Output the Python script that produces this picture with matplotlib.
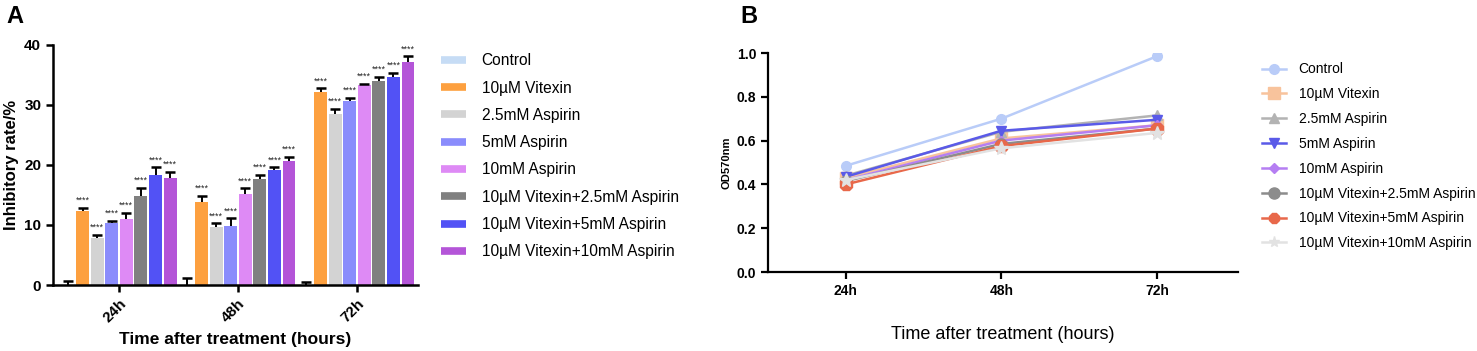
import matplotlib
matplotlib.use("Agg")
import matplotlib.pyplot as plt
from matplotlib.lines import Line2D
import numpy as np

plt.rcParams['font.family'] = ['Liberation Sans', 'DejaVu Sans']

# ---------------- data ----------------
timepoints = ["24h", "48h", "72h"]
groups = ["Control", "10\u00b5M Vitexin", "2.5mM Aspirin", "5mM Aspirin", "10mM Aspirin",
          "10\u00b5M Vitexin+2.5mM Aspirin", "10\u00b5M Vitexin+5mM Aspirin",
          "10\u00b5M Vitexin+10mM Aspirin"]

# Panel A: inhibitory rate (%) per group, per timepoint
inhib_control = [0.0, 0.0, 0.0]
inhib_vitexin = [12.4, 13.8, 32.2]
inhib_asp25 = [7.9, 9.7, 28.5]
inhib_asp5 = [10.3, 9.8, 30.7]
inhib_asp10 = [11.0, 15.2, 33.4]
inhib_v_asp25 = [14.9, 17.7, 34.0]
inhib_v_asp5 = [18.4, 19.1, 34.7]
inhib_v_asp10 = [17.9, 20.7, 37.2]

err_control = [0.7, 1.1, 0.45]
err_vitexin = [0.5, 1.1, 0.6]
err_asp25 = [0.5, 0.6, 0.9]
err_asp5 = [0.4, 1.3, 0.5]
err_asp10 = [1.05, 0.9, 0.15]
err_v_asp25 = [1.3, 0.7, 0.7]
err_v_asp5 = [1.2, 0.5, 0.7]
err_v_asp10 = [1.0, 0.7, 0.9]

# Panel B: OD570nm
od_control = [0.485, 0.70, 0.985]
od_vitexin = [0.43, 0.61, 0.67]
od_asp25 = [0.44, 0.64, 0.715]
od_asp5 = [0.435, 0.645, 0.695]
od_asp10 = [0.42, 0.60, 0.67]
od_v_asp25 = [0.415, 0.585, 0.655]
od_v_asp5 = [0.40, 0.575, 0.655]
od_v_asp10 = [0.42, 0.565, 0.635]

inhib = [inhib_control, inhib_vitexin, inhib_asp25, inhib_asp5, inhib_asp10,
         inhib_v_asp25, inhib_v_asp5, inhib_v_asp10]
errs = [err_control, err_vitexin, err_asp25, err_asp5, err_asp10,
        err_v_asp25, err_v_asp5, err_v_asp10]
ods = [od_control, od_vitexin, od_asp25, od_asp5, od_asp10,
       od_v_asp25, od_v_asp5, od_v_asp10]

bar_colors = ["#C6DCF5", "#FDA03F", "#D3D3D3", "#8A8CFC", "#DE8AF5",
              "#808080", "#5252F5", "#B455D8"]
line_colors = ["#B9CCF8", "#F8C39C", "#B3B3B3", "#5A5AE8", "#B57EF2",
               "#8C8C8C", "#E8684A", "#E2E2E2"]
markers = ["o", "s", "^", "v", "D", "o", "8", "*"]
msizes = [7, 8, 7, 7, 5, 8, 10, 10]

fig = plt.figure(figsize=(14.77, 3.51), dpi=100)

# ---------------- Panel A ----------------
axA = fig.add_axes([0.0359, 0.188, 0.2471, 0.684])
x = np.arange(len(timepoints))
step = 0.1226
width = 0.108
for i, (vals, er, c) in enumerate(zip(inhib, errs, bar_colors)):
    xs = x + (i - 3.5) * step
    vals = np.asarray(vals)
    er = np.asarray(er)
    axA.bar(xs, vals, width=width, color=c, edgecolor="none", zorder=2)
    axA.errorbar(xs, vals, yerr=[np.zeros(len(vals)), er], fmt="none",
                 ecolor="black", elinewidth=1.4, capsize=0, zorder=3)
    axA.plot(xs, vals + er, linestyle="none", marker="_", markersize=7,
             markeredgewidth=1.8, color="black", zorder=3)
    if i > 0:
        for xx, v, e in zip(xs, vals, er):
            axA.text(xx, v + e + 0.45, "****", ha="center", va="bottom",
                     fontsize=6.5, color="#222222")
axA.set_xlim(-0.555, 2.513)
axA.set_ylim(0, 40)
axA.set_yticks([0, 10, 20, 30, 40])
axA.set_xticks(x)
axA.set_xticklabels(timepoints, rotation=45, fontsize=11, fontweight="bold",
                    ha="right", rotation_mode="anchor")
for lab in axA.get_yticklabels():
    lab.set_fontweight("bold")
    lab.set_fontsize(11)
axA.spines["top"].set_visible(False)
axA.spines["right"].set_visible(False)
axA.spines["left"].set_linewidth(1.8)
axA.spines["bottom"].set_linewidth(1.8)
axA.tick_params(axis="both", width=1.8, length=5)
axA.set_ylabel("Inhibitory rate/%", fontsize=12, fontweight="bold")
axA.set_xlabel("Time after treatment (hours)", fontsize=12.5, fontweight="bold",
               labelpad=5)

handlesA = [Line2D([], [], color=c, lw=5.5, solid_capstyle="butt") for c in bar_colors]
fig.legend(handlesA, groups, loc="upper left", bbox_to_anchor=(0.2945, 0.866),
           frameon=False, fontsize=11.2, handlelength=1.6, handletextpad=1.0,
           labelspacing=0.79, borderaxespad=0)

# ---------------- Panel B ----------------
axB = fig.add_axes([0.52, 0.225, 0.318, 0.624])
for vals, c, m, ms in zip(ods, line_colors, markers, msizes):
    axB.plot(x, vals, color=c, marker=m, markersize=ms, lw=1.8,
             markeredgecolor=c, zorder=2)
axB.set_xlim(-0.5, 2.52)
axB.set_ylim(0, 1.0)
axB.set_yticks([0.0, 0.2, 0.4, 0.6, 0.8, 1.0])
axB.set_yticklabels(["0.0", "0.2", "0.4", "0.6", "0.8", "1.0"])
axB.set_xticks(x)
axB.set_xticklabels(timepoints, fontsize=10, fontweight="bold")
for lab in axB.get_yticklabels():
    lab.set_fontweight("bold")
    lab.set_fontsize(10)
axB.spines["top"].set_visible(False)
axB.spines["right"].set_visible(False)
axB.spines["left"].set_linewidth(1.6)
axB.spines["bottom"].set_linewidth(1.6)
axB.tick_params(axis="both", width=1.6, length=5)
axB.set_ylabel("OD570nm", fontsize=8, fontweight="bold")
axB.set_xlabel("Time after treatment (hours)", fontsize=13, labelpad=20)

handlesB = [Line2D([], [], color=c, marker=m, markersize=min(ms, 8), lw=1.8,
                   markeredgecolor=c)
            for c, m, ms in zip(line_colors, markers, msizes)]
fig.legend(handlesB, groups, loc="upper left", bbox_to_anchor=(0.851, 0.838),
           frameon=False, fontsize=10, handlelength=1.7, handletextpad=0.9,
           labelspacing=0.78, borderaxespad=0)

fig.text(0.004, 0.985, "A", fontsize=17, fontweight="bold", va="top")
fig.text(0.501, 0.985, "B", fontsize=17, fontweight="bold", va="top")

fig.savefig("out.png", dpi=100)
